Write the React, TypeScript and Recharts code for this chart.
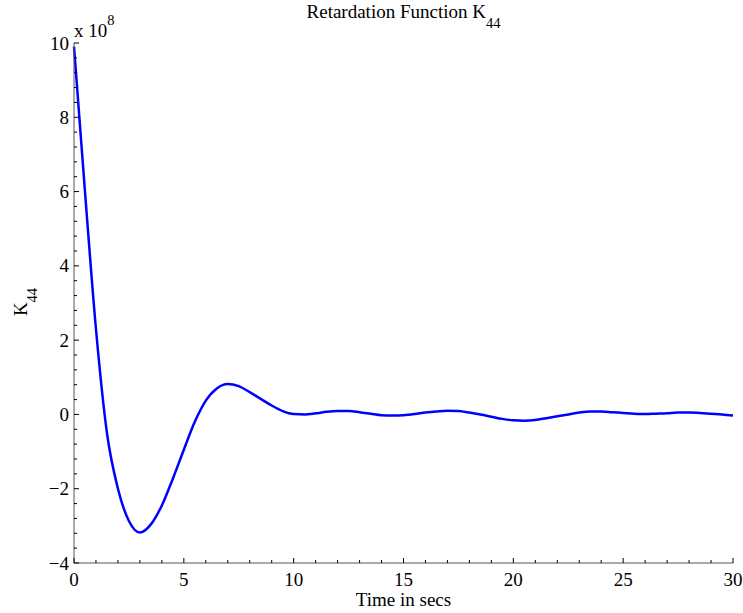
import React from 'react';
import { LineChart, Line, XAxis, YAxis } from 'recharts';

// Time (s)
const timeSecs = [
  0, 0.5, 1, 1.5, 2, 2.5, 3, 3.5, 4, 4.5, 5, 5.5, 6, 6.5, 7, 7.5, 8, 8.5, 9, 9.5,
  10, 10.5, 11, 11.5, 12, 12.5, 13, 13.5, 14, 14.5, 15, 15.5, 16, 16.5, 17, 17.5,
  18, 18.5, 19, 19.5, 20, 20.5, 21, 21.5, 22, 22.5, 23, 23.5, 24, 24.5, 25, 25.5,
  26, 26.5, 27, 27.5, 28, 28.5, 29, 29.5, 30,
];
// K44 in units of 10^8
const k44 = [
  9.9, 6.0, 2.3, -0.5, -2.0, -2.87, -3.18, -2.96, -2.45, -1.73, -0.95, -0.2, 0.37, 0.7, 0.82, 0.76,
  0.6, 0.42, 0.24, 0.09, 0.01, 0.0, 0.03, 0.07, 0.09, 0.09, 0.06, 0.02, -0.02, -0.03, -0.02,
  0.01, 0.05, 0.08, 0.1, 0.09, 0.05, 0.0, -0.06, -0.12, -0.16, -0.17, -0.15, -0.1, -0.05, 0.0,
  0.05, 0.08, 0.08, 0.06, 0.04, 0.02, 0.01, 0.02, 0.03, 0.05, 0.05, 0.04, 0.02, 0.0, -0.03,
];

const xMajorTicks = [0, 5, 10, 15, 20, 25, 30];
const xTickLabels = ['0', '5', '10', '15', '20', '25', '30'];
const yMajorTicks = [-4, -2, 0, 2, 4, 6, 8, 10];
const yTickLabels = ['\u22124', '\u22122', '0', '2', '4', '6', '8', '10'];

const titleText = 'Retardation Function K';
const titleSub = '44';
const xLabel = 'Time in secs';
const yLabel = 'K';
const ySub = '44';
const scaleBase = 'x 10';
const scaleExp = '8';

const data = timeSecs.map((t, i) => ({ t, k: k44[i] }));

// minor tick positions (every 1 on x, every 0.4 on y)
const xAllTicks: number[] = [];
for (let k = 0; k <= 30; k++) xAllTicks.push(k);
const yAllTicks: number[] = [];
for (let k = 0; k <= 35; k++) yAllTicks.push(Math.round((-4 + k * 0.4) * 10) / 10);

const FONT = '"Liberation Serif", "Times New Roman", serif';
const FS = 19;
const SUB = 14.5;

const YTick = (props: any) => {
  const { x, y, payload } = props;
  const v = payload.value;
  const idx = yMajorTicks.findIndex((m) => Math.abs(m - v) < 1e-6);
  const major = idx >= 0;
  return (
    <g>
      <line x1={x} x2={x + (major ? 5 : 3)} y1={y} y2={y} stroke="#000" strokeWidth={1} />
      {major && (
        <text x={x - 5} y={y} textAnchor="end" dominantBaseline="central" fontFamily={FONT} fontSize={FS} fill="#000">
          {yTickLabels[idx]}
        </text>
      )}
    </g>
  );
};

const XTick = (props: any) => {
  const { x, y, payload } = props;
  const v = payload.value;
  const idx = xMajorTicks.findIndex((m) => Math.abs(m - v) < 1e-6);
  const major = idx >= 0;
  return (
    <g>
      <line x1={x} x2={x} y1={y} y2={y - (major ? 5 : 3)} stroke="#000" strokeWidth={1} />
      {major && (
        <text x={x} y={y + 23} textAnchor="middle" fontFamily={FONT} fontSize={FS} fill="#000">
          {xTickLabels[idx]}
        </text>
      )}
    </g>
  );
};

export default function App() {
  return (
    <div style={{ position: 'absolute', left: 0, top: 0, width: 743, height: 613, background: '#fff' }}>
      <LineChart width={743} height={613} data={data} margin={{ top: 43, right: 10, bottom: 0, left: 0 }}>
        <XAxis
          dataKey="t"
          type="number"
          domain={[0, 30]}
          ticks={xAllTicks}
          interval={0}
          tickSize={0}
          tickMargin={0}
          height={50}
          axisLine={{ stroke: '#555', strokeWidth: 1 }}
          tickLine={false}
          tick={<XTick />}
        />
        <YAxis
          type="number"
          domain={[-4, 10]}
          ticks={yAllTicks}
          interval={0}
          tickSize={0}
          tickMargin={0}
          width={74}
          axisLine={{ stroke: '#555', strokeWidth: 1 }}
          tickLine={false}
          tick={<YTick />}
        />
        <Line
          dataKey="k"
          type="monotone"
          stroke="#0000ff"
          strokeWidth={2.5}
          dot={false}
          isAnimationActive={false}
        />
      </LineChart>
      <svg width={743} height={613} style={{ position: 'absolute', left: 0, top: 0, pointerEvents: 'none' }}>
        <text x={403.5} y={18} textAnchor="middle" fontFamily={FONT} fontSize={FS} fill="#000">
          {titleText}
          <tspan dy={10} fontSize={SUB}>{titleSub}</tspan>
        </text>
        <text x={74} y={37} fontFamily={FONT} fontSize={FS} fill="#000">
          {scaleBase}
          <tspan dy={-12} fontSize={SUB}>{scaleExp}</tspan>
        </text>
        <text x={403.5} y={606} textAnchor="middle" fontFamily={FONT} fontSize={FS} fill="#000">
          {xLabel}
        </text>
        <text transform="translate(27,302) rotate(-90)" textAnchor="middle" fontFamily={FONT} fontSize={FS} fill="#000">
          {yLabel}
          <tspan dy={10} fontSize={SUB}>{ySub}</tspan>
        </text>
      </svg>
    </div>
  );
}
